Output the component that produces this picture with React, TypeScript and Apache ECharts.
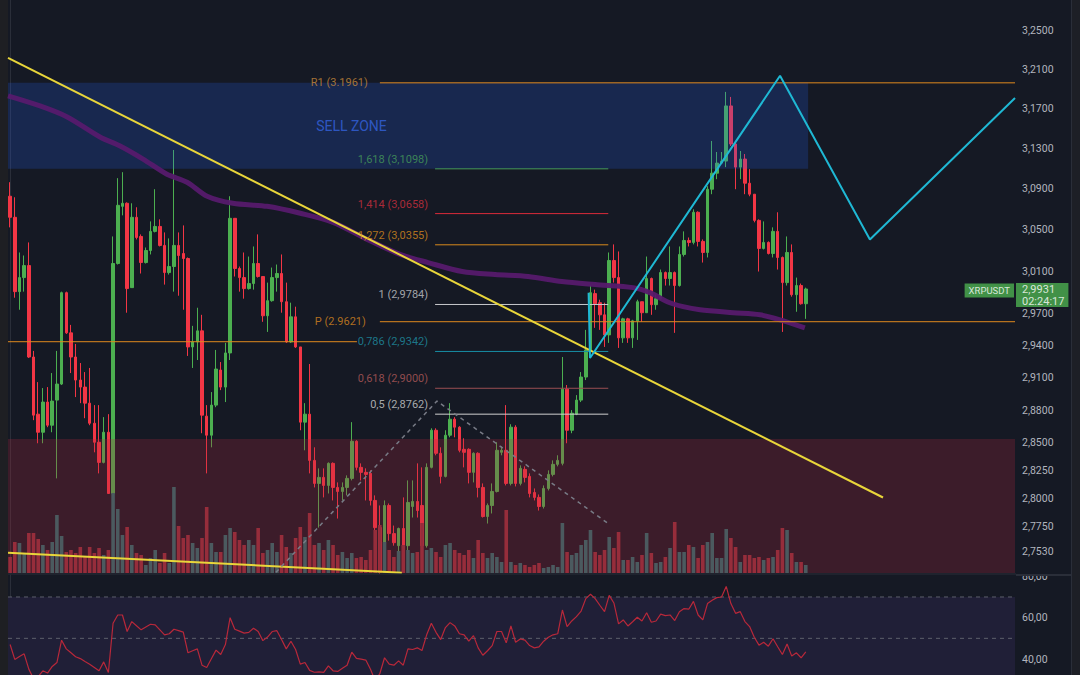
import React, { useEffect, useRef } from "react";
import * as echarts from "echarts";

// ---------------- data ----------------
const OPEN = [
  3.0828, 3.0622, 2.9906, 3.0040, 3.0155, 2.9290, 2.8762, 2.8597, 2.8873, 2.8661,
  2.8891, 2.9039, 2.9896, 2.9516, 2.9290, 2.9076, 2.9011, 2.8863, 2.8679, 2.8506,
  2.8324, 2.8597, 2.8045, 3.0175, 3.0729, 3.0759, 2.9944, 3.0622, 3.0436, 3.0184,
  3.0300, 3.0485, 3.0533, 3.0349, 3.0088, 3.0146, 3.0349, 3.0271, 3.0223, 2.9384,
  2.9431, 2.9535, 2.8744, 2.8570, 2.8845, 2.9169, 2.9011, 2.9328, 3.0612, 3.0127,
  3.0040, 2.9935, 2.9983, 3.0175, 3.0050, 2.9677, 2.9820, 3.0040, 3.0079, 2.9810,
  2.9431, 2.9667, 2.9384, 2.8689, 2.8762, 2.8342, 2.8135, 2.8189, 2.8117, 2.8315,
  2.8099, 2.8063, 2.8099, 2.8180, 2.8515, 2.8279, 2.8234, 2.8225, 2.7983, 2.7742,
  2.7363, 2.7938, 2.7689, 2.7583, 2.7734, 2.7583, 2.7929, 2.7974, 2.7938, 2.7583,
  2.8279, 2.8615, 2.8406, 2.8198, 2.8570, 2.8716, 2.8643, 2.8442, 2.8442, 2.8234,
  2.8406, 2.8099, 2.7840, 2.7938, 2.8063, 2.8415, 2.8433, 2.8135, 2.8643, 2.8135,
  2.8261, 2.8198, 2.8054, 2.8010, 2.7929, 2.8090, 2.8216, 2.8306, 2.8315, 2.8992,
  2.8615, 2.8762, 2.8891, 2.9104, 2.9356, 2.9887, 2.9801, 2.9686, 2.9497, 3.0204,
  3.0040, 2.9469, 2.9648, 2.9469, 2.9629, 2.9810, 2.9706, 3.0031, 2.9782, 2.9839,
  3.0088, 3.0031, 3.0088, 2.9964, 3.0262, 3.0397, 3.0378, 3.0671, 3.0388, 3.0281,
  3.0897, 3.1055, 3.1155, 3.1175, 3.1727, 3.1345, 3.1115, 3.1195, 3.0956, 3.0848,
  3.0592, 3.0320, 3.0378, 3.0271, 3.0485, 3.0233, 2.9992, 3.0281, 2.9877, 2.9964,
  2.9791,
];
const CLOSE = [
  3.0622, 2.9906, 3.0040, 3.0155, 2.9290, 2.8753, 2.8597, 2.8873, 2.8661, 2.8882,
  2.9039, 2.9896, 2.9516, 2.9290, 2.9076, 2.9011, 2.8863, 2.8679, 2.8506, 2.8324,
  2.8597, 2.8045, 3.0175, 3.0739, 3.0759, 2.9935, 3.0622, 3.0426, 3.0184, 3.0300,
  3.0485, 3.0533, 3.0349, 3.0088, 3.0146, 3.0349, 3.0252, 3.0223, 2.9384, 2.9431,
  2.9535, 2.8753, 2.8570, 2.8845, 2.9178, 2.9011, 2.9328, 3.0612, 3.0127, 3.0040,
  2.9935, 2.9983, 3.0175, 3.0050, 2.9677, 2.9820, 3.0040, 3.0079, 2.9810, 2.9431,
  2.9667, 2.9384, 2.8689, 2.8762, 2.8342, 2.8135, 2.8189, 2.8117, 2.8315, 2.8099,
  2.8063, 2.8099, 2.8180, 2.8515, 2.8279, 2.8234, 2.8216, 2.7983, 2.7742, 2.7363,
  2.7938, 2.7689, 2.7609, 2.7734, 2.7583, 2.7965, 2.7974, 2.7893, 2.7583, 2.8279,
  2.8615, 2.8406, 2.8198, 2.8570, 2.8716, 2.8643, 2.8433, 2.8415, 2.8234, 2.8406,
  2.8099, 2.7840, 2.7938, 2.8063, 2.8433, 2.8433, 2.8135, 2.8643, 2.8135, 2.8270,
  2.8189, 2.8045, 2.8010, 2.7929, 2.8090, 2.8216, 2.8306, 2.8342, 2.8992, 2.8615,
  2.8771, 2.8891, 2.9104, 2.9356, 2.9896, 2.9791, 2.9686, 2.9497, 3.0204, 3.0040,
  2.9469, 2.9648, 2.9469, 2.9629, 2.9810, 2.9706, 3.0031, 2.9782, 2.9839, 3.0088,
  3.0031, 3.0088, 2.9964, 3.0262, 3.0397, 3.0378, 3.0671, 3.0388, 3.0281, 3.0897,
  3.1055, 3.1155, 3.1175, 3.1727, 3.1345, 3.1115, 3.1195, 3.0956, 3.0848, 3.0592,
  3.0320, 3.0378, 3.0271, 3.0485, 3.0233, 2.9992, 3.0281, 2.9877, 2.9964, 2.9791,
  2.9931,
];
const HIGH = [
  3.0966, 3.0818, 3.0281, 3.0252, 3.0378, 2.9347, 2.9057, 2.9002, 2.9011, 2.9141,
  2.9347, 2.9906, 2.9906, 2.9591, 2.9412, 2.9234, 2.9150, 2.9188, 2.8845, 2.8845,
  2.8735, 2.8762, 3.0436, 3.1006, 3.1065, 3.0768, 3.0759, 3.0720, 3.0456, 3.0329,
  3.0582, 3.0897, 3.0602, 3.0475, 3.0417, 3.1285, 3.0475, 3.0543, 3.0233, 2.9582,
  2.9753, 2.9686, 2.8845, 2.8965, 2.9356, 2.9243, 2.9422, 3.0828, 3.0612, 3.0146,
  3.0281, 3.0242, 3.0339, 3.0456, 3.0050, 2.9992, 3.0136, 3.0165, 3.0262, 2.9992,
  2.9801, 2.9763, 2.9384, 2.8863, 2.9225, 2.8460, 2.8270, 2.8270, 2.8324, 2.8324,
  2.8144, 2.8144, 2.8207, 2.8689, 2.8524, 2.8315, 2.8270, 2.8252, 2.8028, 2.7938,
  2.7983, 2.7956, 2.7760, 2.7742, 2.8010, 2.8162, 2.8162, 2.8315, 2.8279, 2.8315,
  2.8633, 2.8633, 2.8460, 2.8615, 2.8863, 2.8735, 2.8652, 2.8542, 2.8451, 2.8415,
  2.8415, 2.8135, 2.7956, 2.8135, 2.8506, 2.8469, 2.8845, 2.8670, 2.8661, 2.8297,
  2.8288, 2.8225, 2.8090, 2.8036, 2.8117, 2.8252, 2.8342, 2.8388, 2.9290, 2.9030,
  2.8799, 2.8937, 2.9150, 2.9544, 2.9973, 2.9925, 2.9829, 2.9801, 3.0281, 3.0359,
  3.0291, 2.9658, 2.9658, 2.9639, 2.9829, 2.9810, 3.0242, 3.0040, 2.9877, 3.0117,
  3.0098, 3.0339, 3.0098, 3.0339, 3.0485, 3.0426, 3.0700, 3.0680, 3.0407, 3.0927,
  3.1375, 3.1265, 3.1265, 3.1869, 3.1818, 3.1375, 3.1275, 3.1245, 3.1095, 3.0848,
  3.0602, 3.0582, 3.0388, 3.0524, 3.0671, 3.0242, 3.0436, 3.0359, 3.0040, 2.9983,
  2.9944,
];
const LOW = [
  3.0524, 2.9848, 2.9734, 2.9906, 2.9281, 2.8707, 2.8497, 2.8497, 2.8643, 2.8597,
  2.8180, 2.9030, 2.9506, 2.9141, 2.8919, 2.8863, 2.8725, 2.8661, 2.8415, 2.8225,
  2.8315, 2.8045, 2.7822, 3.0165, 3.0641, 2.9706, 2.9944, 3.0407, 3.0079, 3.0175,
  3.0262, 3.0475, 3.0339, 2.9973, 3.0069, 2.9906, 2.9867, 2.9734, 2.9300, 2.9188,
  2.9262, 2.8588, 2.8225, 2.8460, 2.8826, 2.8983, 2.8873, 2.9262, 3.0050, 2.9906,
  2.9839, 2.9925, 2.9925, 3.0040, 2.9620, 2.9525, 2.9810, 2.9906, 2.9706, 2.9422,
  2.9422, 2.9375, 2.8615, 2.8433, 2.8225, 2.8099, 2.7742, 2.8010, 2.8045, 2.7983,
  2.7822, 2.7983, 2.8028, 2.8162, 2.8252, 2.8162, 2.7983, 2.7938, 2.7716, 2.7337,
  2.7346, 2.7627, 2.7583, 2.7513, 2.7566, 2.7477, 2.7831, 2.7831, 2.7477, 2.7566,
  2.8270, 2.8388, 2.8135, 2.8189, 2.8551, 2.8551, 2.8415, 2.8279, 2.8135, 2.8144,
  2.8010, 2.7831, 2.7778, 2.7867, 2.8054, 2.8388, 2.8117, 2.8117, 2.8108, 2.8117,
  2.8144, 2.8010, 2.7983, 2.7893, 2.7911, 2.8072, 2.8198, 2.8288, 2.8297, 2.8497,
  2.8588, 2.8753, 2.8873, 2.9076, 2.9337, 2.9563, 2.9544, 2.9384, 2.9422, 2.9992,
  2.9375, 2.9422, 2.9422, 2.9375, 2.9450, 2.9620, 2.9706, 2.9686, 2.9734, 2.9829,
  2.9964, 2.9964, 2.9516, 2.9954, 3.0242, 3.0339, 3.0359, 3.0339, 3.0184, 3.0233,
  3.0848, 3.0996, 3.1145, 3.1115, 3.1325, 3.0897, 3.0996, 3.0848, 3.0828, 3.0573,
  3.0098, 3.0310, 3.0262, 3.0233, 3.0117, 2.9525, 2.9964, 2.9858, 2.9715, 2.9782,
  2.9648,
];
const VOLUME = [
  16, 31, 30, 20, 40, 40, 34, 28, 23, 31,
  58, 37, 21, 23, 20, 26, 16, 26, 20, 25,
  18, 23, 80, 64, 38, 46, 28, 20, 18, 8,
  15, 23, 10, 20, 10, 86, 47, 35, 38, 30,
  25, 35, 66, 30, 21, 21, 38, 45, 41, 33,
  28, 33, 28, 45, 20, 23, 30, 21, 38, 26,
  20, 35, 46, 36, 60, 28, 30, 23, 33, 28,
  18, 21, 15, 20, 15, 16, 13, 23, 43, 48,
  31, 23, 16, 22, 28, 23, 20, 21, 50, 23,
  25, 21, 16, 28, 30, 23, 20, 18, 23, 15,
  33, 20, 15, 20, 16, 11, 63, 11, 8, 10,
  8, 6, 8, 10, 5, 6, 8, 6, 50, 21,
  18, 20, 28, 33, 43, 21, 18, 23, 36, 25,
  41, 13, 13, 16, 11, 18, 40, 20, 10, 11,
  16, 25, 51, 21, 21, 28, 26, 15, 28, 31,
  40, 15, 15, 44, 35, 26, 11, 18, 18, 15,
  16, 13, 15, 16, 23, 45, 43, 20, 11, 11,
  8,
];
const RSI = [
  47.0, 39.8, 41.2, 42.5, 35.1, 30.5, 31.5, 34.3, 33.2, 36.4,
  38.3, 49.1, 44.9, 43.0, 41.1, 40.2, 38.8, 37.5, 35.9, 34.3,
  38.6, 33.5, 57.3, 61.3, 61.3, 53.3, 58.1, 56.1, 54.1, 55.5,
  56.8, 56.5, 54.1, 51.7, 52.2, 54.4, 53.7, 53.0, 43.0, 44.0,
  44.9, 37.0, 35.9, 40.1, 44.3, 42.2, 47.0, 60.0, 54.4, 53.5,
  52.5, 52.9, 54.9, 53.3, 48.9, 50.6, 53.3, 53.7, 49.4, 44.9,
  48.6, 44.6, 37.5, 38.3, 34.5, 33.6, 33.8, 33.5, 36.7, 34.3,
  34.0, 35.5, 37.0, 43.3, 40.3, 39.9, 39.5, 35.0, 29.5, 33.0,
  40.6, 37.5, 37.0, 39.1, 37.0, 44.9, 44.6, 45.4, 44.1, 51.7,
  57.3, 52.9, 49.4, 55.2, 57.6, 56.0, 52.2, 51.7, 48.6, 51.3,
  45.4, 41.8, 44.0, 46.5, 53.3, 53.3, 47.8, 56.0, 48.1, 49.7,
  49.1, 46.5, 45.4, 45.9, 48.6, 50.5, 51.7, 52.2, 63.7, 55.7,
  58.4, 60.5, 63.2, 69.2, 71.3, 69.2, 66.0, 62.9, 70.8, 67.1,
  57.0, 58.9, 56.0, 58.0, 60.2, 58.4, 62.4, 57.8, 58.4, 61.7,
  61.0, 61.3, 58.6, 62.9, 64.4, 64.1, 67.9, 61.3, 58.9, 66.8,
  68.4, 69.7, 70.0, 75.1, 66.8, 62.1, 62.9, 58.1, 55.7, 50.5,
  46.7, 48.1, 46.2, 49.8, 45.9, 42.2, 47.3, 41.4, 43.0, 40.6,
  43.5,
];
// moving average (bar index, price)
const MA_LINE = [
  [-0.45, 3.1829], [6.4, 3.1727], [12.2, 3.1616], [19.2, 3.1415], [23.5, 3.1325],
  [28.4, 3.1195], [33.5, 3.1045], [37.8, 3.0966], [42.1, 3.0828], [47.6, 3.0759],
  [54.9, 3.0729], [62.0, 3.0661], [69.0, 3.0573], [76.3, 3.0407], [83.3, 3.0262],
  [89.3, 3.0184], [96.6, 3.0098], [103.6, 3.0069], [110.7, 3.0050], [117.9, 3.0002],
  [125.0, 2.9973], [133.1, 2.9944], [136.7, 2.9896], [140.4, 2.9810], [143.8, 2.9763],
  [147.4, 2.9734], [154.5, 2.9706], [160.2, 2.9686], [164.5, 2.9639], [169.8, 2.9563],
];
const PRICE_TICKS = [3.25, 3.21, 3.17, 3.13, 3.09, 3.05, 3.01, 2.97, 2.94, 2.91, 2.88, 2.85, 2.825, 2.8, 2.775, 2.753];
const RSI_TICKS = [40, 60, 80];
const PRICE_RANGE = [2.7344, 3.2815];
const RSI_RANGE = [32.26, 80.64];
const INDEX_RANGE = [-0.45, 214.7];
const FIB_RATIOS = ["1,618", "1,414", "1,272", "1", "0,786", "0,618", "0,5"];
const FIB_PRICES = [3.1098, 3.0658, 3.0355, 2.9784, 2.9342, 2.9, 2.8762];
const FIB_SPAN = [90.8, 127.8];
const PIVOT_NAMES = ["R1", "P"];
const PIVOT_PRICES = [3.1961, 2.9621];
const PIVOT_FROM = 79.0;
const PREV_PIVOT_PRICE = 2.9433;
const PREV_PIVOT_SPAN = [-0.45, 74.1];
const SELL_ZONE = [-0.45, 170.5, 3.1961, 3.1098];
const DEMAND_ZONE = [-0.45, 214.7, 2.8535, 2.7344];
const TREND_UPPER = [[-0.45, 3.2217], [186.5, 2.8009]];
const TREND_LOWER = [[-0.45, 2.7521], [83.7, 2.7347]];
const SWING_DASHED = [[56.8, 2.735], [91.2, 2.8882], [127.8, 2.7778]];
const PROJECTION = [[123.6, 2.9896], [123.9, 2.9281], [164.5, 3.2033], [183.7, 3.0407], [214.7, 3.1808]];
const RSI_GUIDES = [70, 50];
const RSI_BAND = [70, 30];
const SELL_TEXT = "SELL ZONE";
const SELL_TEXT_AT = 65.4;
const SYMBOL = "XRPUSDT";
const COUNTDOWN = "02:24:17";
const VOLUME_AXIS_MAX = 573;

// ---------------- style ----------------
const FONT = "Roboto, 'Noto Sans', 'DejaVu Sans', sans-serif";
const COLORS = {
  pane: "#151924",
  leftStrip: "#1e1f23",
  rightStrip: "#1d1f26",
  border: "#2a2e39",
  axisText: "#b2b5be",
  up: "#4caf50",
  down: "#f23645",
  volUp: "#4b5a5f",
  volDown: "#962d3b",
  sell: "rgba(41,98,255,0.2)",
  demand: "rgba(178,40,60,0.25)",
  rsiBand: "#201f37",
  rsiGuide: "#5d606b",
  rsi: "#b8283a",
  ma: "#561a6d",
  yellow: "#e9d63a",
  cyan: "#1fb8d4",
  dashed: "#787b86",
  pivot: "#e08a1e",
  r1Text: "#c98a3a",
  pText: "#d9861f",
  sellText: "#3464e0",
  badge: "#4caf50",
};
const FIB_LINE_COLORS = ["#469c5a", "#d92b3a", "#d8891d", "#c8c9cc", "#178ea5", "#9a4f52", "#d0d0d0"];
const FIB_TEXT_COLORS = ["#469c5a", "#d0303f", "#d8891d", "#c8c9cc", "#1f8fa3", "#b35a5a", "#d0d0d0"];

const ln = Math.log;
const fmtComma = (p: number, d = 4) => p.toFixed(d).replace(".", ",");

function lineSeries(points: number[][], color: string, width: number, z: number, extra: any = {}) {
  const { lineStyle: extraLine, ...rest } = extra;
  return {
    type: "line",
    xAxisIndex: 0,
    yAxisIndex: 0,
    data: points.map((p) => [p[0], ln(p[1])]),
    symbol: "none",
    silent: true,
    z,
    lineStyle: { color, width, ...(extraLine || {}) },
    ...rest,
  };
}

function rectSeries(xIdx: number, yIdx: number, rows: number[][], fills: string[], z: number) {
  return {
    type: "custom",
    xAxisIndex: xIdx,
    yAxisIndex: yIdx,
    silent: true,
    z,
    data: rows,
    encode: { x: [0, 1], y: [2, 3] },
    renderItem: (params: any, api: any) => {
      const a = api.coord([api.value(0), api.value(2)]);
      const b = api.coord([api.value(1), api.value(3)]);
      const cs = params.coordSys;
      const shape = echarts.graphic.clipRectByRect(
        { x: Math.min(a[0], b[0]), y: Math.min(a[1], b[1]), width: Math.abs(b[0] - a[0]), height: Math.abs(b[1] - a[1]) },
        { x: cs.x, y: cs.y, width: cs.width, height: cs.height }
      );
      return shape ? { type: "rect", shape, style: { fill: fills[params.dataIndex] } } : null;
    },
  };
}

function buildOption() {
  const last = CLOSE[CLOSE.length - 1];
  const series: any[] = [];

  // RSI band
  series.push(rectSeries(1, 2, [[INDEX_RANGE[0], INDEX_RANGE[1], RSI_BAND[0], RSI_BAND[1]]], [COLORS.rsiBand], 1));

  // candles
  series.push({
    type: "candlestick",
    xAxisIndex: 0,
    yAxisIndex: 0,
    z: 2,
    barWidth: 3,
    silent: true,
    encode: { x: 0, y: [1, 2, 3, 4] },
    data: OPEN.map((o, i) => [i, ln(o), ln(CLOSE[i]), ln(LOW[i]), ln(HIGH[i])]),
    itemStyle: { color: COLORS.up, color0: COLORS.down, borderColor: COLORS.up, borderColor0: COLORS.down, borderWidth: 1 },
  });

  // zones
  series.push(
    rectSeries(0, 0, [
      [SELL_ZONE[0], SELL_ZONE[1], ln(SELL_ZONE[2]), ln(SELL_ZONE[3])],
      [DEMAND_ZONE[0], DEMAND_ZONE[1], ln(DEMAND_ZONE[2]), ln(DEMAND_ZONE[3])],
    ], [COLORS.sell, COLORS.demand], 3)
  );

  // volume
  series.push({
    type: "bar",
    xAxisIndex: 0,
    yAxisIndex: 1,
    z: 4,
    barWidth: 3.6,
    silent: true,
    data: VOLUME.map((v, i) => ({ value: [i, v], itemStyle: { color: CLOSE[i] >= OPEN[i] ? COLORS.volUp : COLORS.volDown } })),
  });

  // moving average
  series.push(lineSeries(MA_LINE, COLORS.ma, 5, 4, { smooth: 0.3, lineStyle: { opacity: 0.95 } }));

  // pivots
  PIVOT_PRICES.forEach((p) => series.push(lineSeries([[PIVOT_FROM, p], [INDEX_RANGE[1], p]], COLORS.pivot, 1, 5)));
  series.push(lineSeries([[PREV_PIVOT_SPAN[0], PREV_PIVOT_PRICE], [PREV_PIVOT_SPAN[1], PREV_PIVOT_PRICE]], COLORS.pivot, 1, 5));

  // fib levels
  FIB_PRICES.forEach((p, k) => series.push(lineSeries([[FIB_SPAN[0], p], [FIB_SPAN[1], p]], FIB_LINE_COLORS[k], 1, 5)));

  // drawings
  series.push(lineSeries(TREND_UPPER, COLORS.yellow, 2, 6));
  series.push(lineSeries(TREND_LOWER, COLORS.yellow, 2, 6));
  series.push(lineSeries(SWING_DASHED, COLORS.dashed, 1.5, 6, { lineStyle: { type: [4, 4] } }));
  series.push(lineSeries(PROJECTION, COLORS.cyan, 2, 6));

  // text labels in the price pane
  const lbl = (value: number[], text: string, color: string, position: string, distance: number, offset: number[], fontSize: number, extra: any = {}) => ({
    value,
    label: { show: true, formatter: text, color, position, distance, offset, fontSize, fontFamily: FONT, ...extra },
  });
  const labels: any[] = [];
  FIB_PRICES.forEach((p, k) =>
    labels.push(lbl([FIB_SPAN[0], ln(p)], `${FIB_RATIOS[k]} (${fmtComma(p)})`, FIB_TEXT_COLORS[k], "left", 7, [0, -9.5], 11))
  );
  PIVOT_PRICES.forEach((p, k) =>
    labels.push(lbl([PIVOT_FROM, ln(p)], `${PIVOT_NAMES[k]} (${p.toFixed(4)})`, k === 0 ? COLORS.r1Text : COLORS.pText, "left", k === 0 ? 12 : 14, [0, 0], 11))
  );
  labels.push(lbl([SELL_TEXT_AT, (ln(SELL_ZONE[2]) + ln(SELL_ZONE[3])) / 2], SELL_TEXT, COLORS.sellText, "right", 0, [0, 0], 14));
  labels.push(
    lbl([INDEX_RANGE[1], ln(last)], `${fmtComma(last)}\n${COUNTDOWN}`, "#ffffff", "right", 1, [0, 6], 11, {
      backgroundColor: COLORS.badge, padding: [0, 4, 0, 6], lineHeight: 12, align: "left",
    })
  );
  labels.push(
    lbl([INDEX_RANGE[1], ln(last)], SYMBOL, "#ffffff", "left", 1, [0, 1.5], 9.5, {
      backgroundColor: COLORS.badge, padding: [2, 4, 2, 4],
    })
  );
  series.push({
    type: "scatter",
    xAxisIndex: 0,
    yAxisIndex: 0,
    symbolSize: 0,
    clip: false,
    silent: true,
    z: 8,
    data: labels,
  });

  // RSI guides and line
  RSI_GUIDES.forEach((g) =>
    series.push({
      type: "line", xAxisIndex: 1, yAxisIndex: 2, symbol: "none", silent: true, z: 2,
      data: [[INDEX_RANGE[0], g], [INDEX_RANGE[1], g]],
      lineStyle: { color: COLORS.rsiGuide, width: 1, type: [4, 4] },
    })
  );
  series.push({
    type: "line", xAxisIndex: 1, yAxisIndex: 2, symbol: "none", silent: true, z: 5,
    data: RSI.map((v, i) => [i, v]),
    lineStyle: { color: COLORS.rsi, width: 1.2 },
  });

  const axisLabelBase = { color: COLORS.axisText, fontSize: 10.5, margin: 7, fontFamily: FONT };

  return {
    animation: false,
    backgroundColor: "transparent",
    textStyle: { fontFamily: FONT },
    grid: [
      { left: 8, top: 0, width: 1007, height: 573 },
      { left: 8, top: 575, width: 1007, height: 100 },
    ],
    xAxis: [
      { type: "value", gridIndex: 0, min: INDEX_RANGE[0], max: INDEX_RANGE[1], show: false },
      { type: "value", gridIndex: 1, min: INDEX_RANGE[0], max: INDEX_RANGE[1], show: false },
    ],
    yAxis: [
      {
        type: "value", gridIndex: 0, position: "right",
        min: ln(PRICE_RANGE[0]), max: ln(PRICE_RANGE[1]),
        axisLine: { show: true, lineStyle: { color: COLORS.border } },
        axisTick: { show: false }, splitLine: { show: false },
        axisLabel: { ...axisLabelBase, customValues: PRICE_TICKS.map(ln), formatter: (v: number) => fmtComma(Math.exp(v)) },
      },
      { type: "value", gridIndex: 0, min: 0, max: VOLUME_AXIS_MAX, show: false },
      {
        type: "value", gridIndex: 1, position: "right",
        min: RSI_RANGE[0], max: RSI_RANGE[1],
        axisLine: { show: true, lineStyle: { color: COLORS.border } },
        axisTick: { show: false }, splitLine: { show: false },
        axisLabel: { ...axisLabelBase, customValues: RSI_TICKS, formatter: (v: number) => fmtComma(v, 2) },
      },
    ],
    graphic: [
      { type: "line", z: 41, silent: true, shape: { x1: 8, y1: 574, x2: 1071, y2: 574 }, style: { stroke: COLORS.border, lineWidth: 1 } },
    ],
    series,
  };
}

export default function App() {
  const ref = useRef<HTMLDivElement>(null);
  useEffect(() => {
    const el = ref.current;
    if (!el) return;
    const chart = echarts.init(el, undefined, { renderer: "svg" });
    chart.setOption(buildOption() as any);
    return () => chart.dispose();
  }, []);
  return (
    <div style={{ position: "fixed", left: 0, top: 0, width: 1080, height: 675, background: COLORS.pane, overflow: "hidden" }}>
      <div style={{ position: "absolute", left: 0, top: 0, width: 8, height: 675, background: COLORS.leftStrip }} />
      <div style={{ position: "absolute", left: 1071, top: 0, width: 9, height: 675, background: COLORS.rightStrip, borderLeft: `1px solid ${COLORS.border}` }} />
      <div ref={ref} style={{ position: "absolute", left: 0, top: 0, width: 1080, height: 675 }} />
      {/* the RSI pane clips the top of its highest axis label */}
      <div style={{ position: "absolute", left: 1016, top: 562, width: 55, height: 12, background: COLORS.pane, zIndex: 2 }} />
      <div style={{ position: "absolute", left: 1016, top: 574, width: 55, height: 1.5, background: COLORS.border, zIndex: 2 }} />
    </div>
  );
}
